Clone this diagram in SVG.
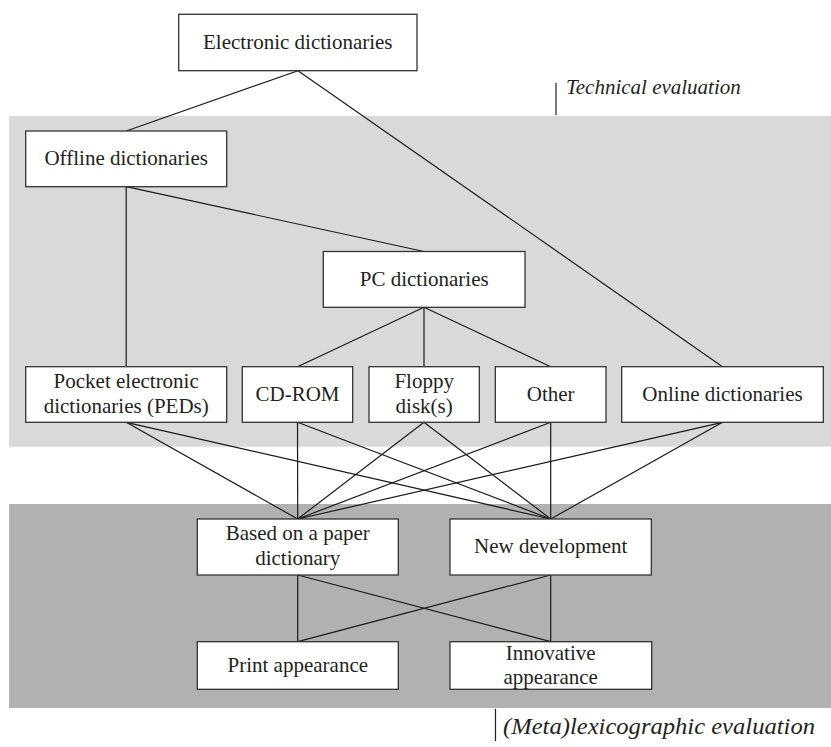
<svg xmlns="http://www.w3.org/2000/svg" width="831" height="747" viewBox="0 0 831 747">
<style>
.box{fill:#fff;stroke:#333;stroke-width:1.3}
.lbl{font-family:"Liberation Serif","Times New Roman",serif;font-size:21px;fill:#231f20;text-anchor:middle}
.note{font-family:"Liberation Serif","Times New Roman",serif;font-size:21px;font-style:italic;fill:#231f20}
.conn line{stroke:#1a1a1a;stroke-width:1.2}
.bar{stroke:#231f20;stroke-width:1.2}
</style>
<rect x="0" y="0" width="831" height="747" fill="#fff"/>
<rect x="9" y="116" width="822" height="330.7" fill="#d9d9d9"/>
<rect x="9" y="504" width="822" height="204" fill="#b1b1b1"/>
<g id="annotations">
<line class="bar" x1="556" y1="82.7" x2="556" y2="115"/>
<text class="note" x="566" y="94">Technical evaluation</text>
<line class="bar" x1="495.5" y1="709" x2="495.5" y2="741"/>
<text class="note" x="503" y="734" style="font-size:23px" textLength="312" lengthAdjust="spacingAndGlyphs">(Meta)lexicographic evaluation</text>
</g>
<g id="connectors" class="conn">
<line x1="298" y1="70.7" x2="126.2" y2="131"/>
<line x1="298" y1="70.7" x2="722.5" y2="366.7"/>
<line x1="126.2" y1="186.7" x2="126.2" y2="366.7"/>
<line x1="126.2" y1="186.7" x2="424" y2="251.5"/>
<line x1="424" y1="307.3" x2="297.5" y2="366.7"/>
<line x1="424" y1="307.3" x2="424" y2="366.7"/>
<line x1="424" y1="307.3" x2="550.7" y2="366.7"/>
<line x1="126.2" y1="422.3" x2="297.7" y2="519"/>
<line x1="126.2" y1="422.3" x2="550.7" y2="519"/>
<line x1="297.5" y1="422.3" x2="297.7" y2="519"/>
<line x1="297.5" y1="422.3" x2="550.7" y2="519"/>
<line x1="424" y1="422.3" x2="297.7" y2="519"/>
<line x1="424" y1="422.3" x2="550.7" y2="519"/>
<line x1="550.7" y1="422.3" x2="297.7" y2="519"/>
<line x1="550.7" y1="422.3" x2="550.7" y2="519"/>
<line x1="722.5" y1="422.3" x2="297.7" y2="519"/>
<line x1="722.5" y1="422.3" x2="550.7" y2="519"/>
<line x1="297.7" y1="575" x2="297.7" y2="641.7"/>
<line x1="297.7" y1="575" x2="550.7" y2="641.7"/>
<line x1="550.7" y1="575" x2="297.7" y2="641.7"/>
<line x1="550.7" y1="575" x2="550.7" y2="641.7"/>
</g>
<g id="electronic">
<rect class="box" x="178.7" y="14.3" width="238.3" height="56.4"/>
<text class="lbl" x="297.8" y="48.5">Electronic dictionaries</text>
</g>
<g id="offline">
<rect class="box" x="25.7" y="131" width="201" height="55.7"/>
<text class="lbl" x="126.2" y="165">Offline dictionaries</text>
</g>
<g id="pc">
<rect class="box" x="323.3" y="251.5" width="201.7" height="55.8"/>
<text class="lbl" x="424.2" y="285.5">PC dictionaries</text>
</g>
<g id="ped">
<rect class="box" x="25.7" y="366.7" width="201" height="55.6"/>
<text class="lbl" x="126.2" y="387.7">Pocket electronic</text>
<text class="lbl" x="126.2" y="412.7">dictionaries (PEDs)</text>
</g>
<g id="cdrom">
<rect class="box" x="242.3" y="366.7" width="110.4" height="55.6"/>
<text class="lbl" x="297.5" y="400.5">CD-ROM</text>
</g>
<g id="floppy">
<rect class="box" x="369" y="366.7" width="110.3" height="55.6"/>
<text class="lbl" x="424.2" y="387.7">Floppy</text>
<text class="lbl" x="424.2" y="412.7">disk(s)</text>
</g>
<g id="other">
<rect class="box" x="495.3" y="366.7" width="110.7" height="55.6"/>
<text class="lbl" x="550.7" y="400.5">Other</text>
</g>
<g id="online">
<rect class="box" x="621.7" y="366.7" width="201.6" height="55.6"/>
<text class="lbl" x="722.5" y="400.5">Online dictionaries</text>
</g>
<g id="paper">
<rect class="box" x="197.3" y="519" width="201" height="56"/>
<text class="lbl" x="297.8" y="539.5">Based on a paper</text>
<text class="lbl" x="297.8" y="564.5">dictionary</text>
</g>
<g id="newdev">
<rect class="box" x="450" y="519" width="201.3" height="56"/>
<text class="lbl" x="550.7" y="553">New development</text>
</g>
<g id="print">
<rect class="box" x="197.3" y="641.7" width="201" height="47.6"/>
<text class="lbl" x="297.8" y="672">Print appearance</text>
</g>
<g id="innovative">
<rect class="box" x="450" y="641.7" width="201.7" height="47.6"/>
<text class="lbl" x="550.7" y="660">Innovative</text>
<text class="lbl" x="550.7" y="684">appearance</text>
</g>
</svg>
